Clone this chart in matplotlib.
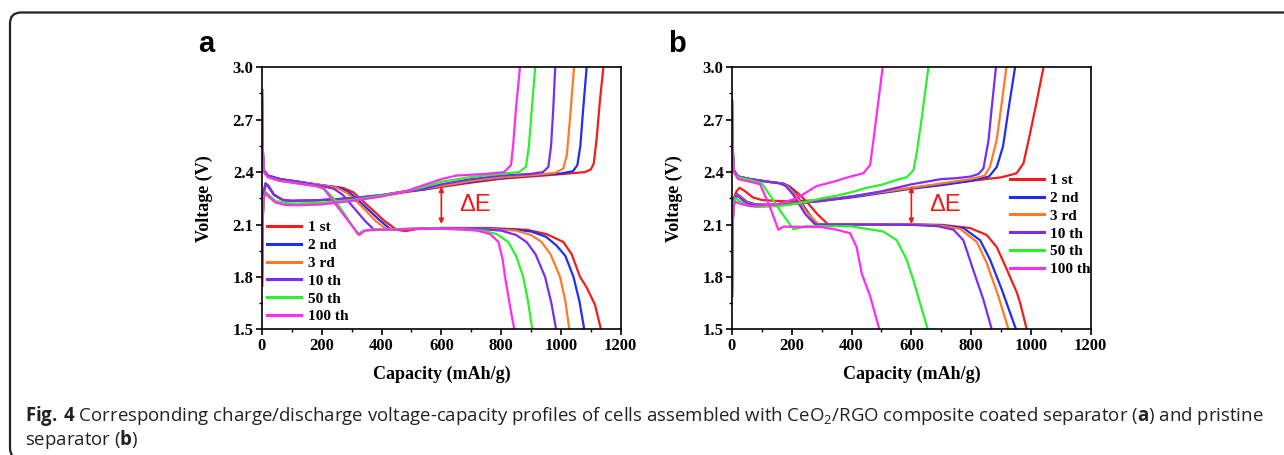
import numpy as np
import matplotlib
matplotlib.use("Agg")
import matplotlib.pyplot as plt
from matplotlib.patches import FancyBboxPatch
from matplotlib.ticker import MultipleLocator
from matplotlib.transforms import IdentityTransform

# legend labels / colours for the six cycles
cycles = ['1 st', '2 nd', '3 rd', '10 th', '50 th', '100 th']
colors = ['#f41c1c', '#1f2ef0', '#ff7a26', '#7a2cf2', '#2cf02c', '#ff2cf2']

# ---- panel a: CeO2/RGO coated separator (capacity mAh/g, voltage V) ----
a_dis_1 = [(0, 2.87), (2, 2.55), (6, 2.41), (20, 2.38), (60, 2.36), (120, 2.345), (200, 2.325), (270, 2.31),
           (305, 2.285), (340, 2.23), (372, 2.18), (410, 2.12), (450, 2.07), (480, 2.062), (520, 2.075),
           (600, 2.08), (750, 2.08), (885, 2.07), (952, 2.045), (1008, 2.0), (1036, 1.93), (1064, 1.80),
           (1086, 1.74), (1114, 1.64), (1134, 1.50)]
a_dis_2 = [(0, 2.87), (2, 2.55), (6, 2.41), (20, 2.38), (60, 2.36), (120, 2.345), (200, 2.325), (260, 2.31),
           (295, 2.28), (340, 2.21), (390, 2.13), (428, 2.075), (470, 2.072), (600, 2.08), (750, 2.078),
           (850, 2.07), (900, 2.06), (950, 2.03), (985, 1.98), (1015, 1.92), (1042, 1.80), (1062, 1.66),
           (1078, 1.50)]
a_dis_3 = [(0, 2.87), (2, 2.55), (6, 2.41), (20, 2.38), (60, 2.36), (120, 2.345), (200, 2.325), (250, 2.31),
           (285, 2.28), (330, 2.21), (380, 2.12), (415, 2.075), (460, 2.072), (600, 2.08), (750, 2.075),
           (850, 2.065), (900, 2.04), (935, 2.0), (965, 1.93), (997, 1.80), (1015, 1.66), (1028, 1.50)]
a_dis_10 = [(0, 2.87), (2, 2.55), (6, 2.41), (20, 2.38), (60, 2.36), (120, 2.345), (200, 2.32), (240, 2.305),
            (270, 2.27), (310, 2.19), (345, 2.12), (375, 2.07), (420, 2.072), (600, 2.08), (720, 2.075),
            (800, 2.065), (850, 2.04), (885, 2.0), (915, 1.93), (947, 1.80), (968, 1.65), (984, 1.50)]
a_dis_50 = [(0, 2.87), (2, 2.55), (6, 2.40), (20, 2.37), (60, 2.35), (120, 2.335), (180, 2.32), (210, 2.30),
            (240, 2.25), (280, 2.15), (320, 2.045), (340, 2.065), (380, 2.072), (600, 2.078), (700, 2.07),
            (740, 2.065), (785, 2.045), (824, 2.0), (850, 1.92), (874, 1.80), (890, 1.66), (904, 1.50)]
a_dis_100 = [(0, 2.87), (2, 2.55), (6, 2.40), (20, 2.37), (60, 2.35), (120, 2.335), (180, 2.32), (205, 2.31),
             (235, 2.24), (280, 2.14), (325, 2.04), (345, 2.065), (390, 2.07), (600, 2.076), (680, 2.07),
             (720, 2.065), (763, 2.045), (791, 2.0), (805, 1.90), (813, 1.80), (825, 1.68), (835, 1.58),
             (844, 1.50)]

a_chg_1 = [(0, 1.75), (2, 2.10), (5, 2.28), (12, 2.335), (22, 2.32), (40, 2.27), (70, 2.24), (100, 2.235),
           (200, 2.24), (300, 2.25), (400, 2.265), (480, 2.285), (540, 2.30), (600, 2.315), (700, 2.34),
           (800, 2.362), (900, 2.375), (1000, 2.388), (1080, 2.40), (1100, 2.415), (1110, 2.45), (1120, 2.60),
           (1130, 2.80), (1142, 3.0)]
a_chg_2 = [(0, 1.75), (2, 2.10), (5, 2.28), (12, 2.335), (22, 2.32), (40, 2.27), (70, 2.24), (100, 2.235),
           (200, 2.24), (300, 2.25), (400, 2.268), (480, 2.29), (540, 2.30), (600, 2.318), (700, 2.345),
           (800, 2.365), (900, 2.38), (1000, 2.392), (1040, 2.405), (1055, 2.44), (1065, 2.55), (1074, 2.75),
           (1086, 3.0)]
a_chg_3 = [(0, 1.75), (2, 2.10), (5, 2.28), (12, 2.33), (22, 2.315), (40, 2.27), (70, 2.24), (100, 2.235),
           (200, 2.24), (300, 2.25), (400, 2.268), (480, 2.29), (540, 2.305), (600, 2.32), (700, 2.35),
           (800, 2.37), (900, 2.382), (980, 2.395), (1008, 2.42), (1020, 2.50), (1030, 2.70), (1044, 3.0)]
a_chg_10 = [(0, 1.75), (2, 2.10), (5, 2.28), (12, 2.33), (22, 2.315), (40, 2.27), (70, 2.24), (100, 2.235),
            (200, 2.24), (300, 2.25), (400, 2.268), (480, 2.29), (540, 2.305), (600, 2.33), (700, 2.36),
            (800, 2.38), (900, 2.39), (940, 2.40), (958, 2.43), (967, 2.55), (974, 2.75), (981, 3.0)]
a_chg_50 = [(0, 1.75), (2, 2.10), (5, 2.25), (12, 2.285), (22, 2.27), (45, 2.235), (80, 2.222), (120, 2.22),
            (200, 2.225), (300, 2.24), (400, 2.265), (480, 2.29), (540, 2.315), (600, 2.345), (700, 2.372),
            (800, 2.39), (860, 2.40), (883, 2.43), (893, 2.55), (902, 2.75), (914, 3.0)]
a_chg_100 = [(0, 1.75), (2, 2.10), (5, 2.25), (12, 2.28), (22, 2.26), (45, 2.225), (80, 2.212), (120, 2.21),
             (200, 2.215), (300, 2.235), (400, 2.26), (480, 2.29), (540, 2.325), (600, 2.36), (650, 2.38),
             (750, 2.39), (810, 2.40), (833, 2.44), (840, 2.55), (849, 2.75), (863, 3.0)]

# ---- panel b: pristine separator ----
b_dis_1 = [(0, 2.81), (2, 2.55), (6, 2.41), (20, 2.375), (60, 2.36), (120, 2.345), (170, 2.335), (195, 2.315),
           (220, 2.28), (250, 2.23), (285, 2.16), (322, 2.10), (400, 2.10), (600, 2.10), (700, 2.098),
           (796, 2.08), (852, 2.04), (886, 1.97), (920, 1.84), (953, 1.71), (964, 1.65), (986, 1.50)]
b_dis_2 = [(0, 2.81), (2, 2.55), (6, 2.41), (20, 2.375), (60, 2.36), (120, 2.345), (170, 2.335), (190, 2.32),
           (215, 2.27), (250, 2.18), (283, 2.10), (400, 2.10), (600, 2.10), (700, 2.095), (774, 2.08),
           (830, 2.01), (863, 1.90), (902, 1.73), (950, 1.50)]
b_dis_3 = [(0, 2.81), (2, 2.55), (6, 2.41), (20, 2.375), (60, 2.36), (120, 2.345), (165, 2.335), (185, 2.32),
           (212, 2.27), (250, 2.17), (290, 2.10), (400, 2.10), (600, 2.10), (700, 2.093), (763, 2.075),
           (819, 2.0), (852, 1.88), (891, 1.69), (925, 1.50)]
b_dis_10 = [(0, 2.81), (2, 2.55), (6, 2.41), (20, 2.375), (60, 2.36), (120, 2.345), (160, 2.335), (180, 2.32),
            (205, 2.27), (245, 2.16), (278, 2.10), (400, 2.10), (600, 2.098), (690, 2.09), (741, 2.07),
            (774, 2.01), (807, 1.84), (841, 1.67), (869, 1.50)]
b_dis_50 = [(0, 2.81), (2, 2.55), (6, 2.40), (20, 2.37), (60, 2.355), (100, 2.335), (122, 2.28), (165, 2.17),
            (205, 2.073), (250, 2.09), (395, 2.09), (506, 2.06), (551, 2.01), (584, 1.90), (607, 1.78),
            (629, 1.65), (655, 1.50)]
b_dis_100 = [(0, 2.81), (2, 2.55), (6, 2.40), (20, 2.36), (60, 2.345), (94, 2.33), (127, 2.20), (155, 2.07),
             (172, 2.088), (300, 2.085), (350, 2.07), (395, 2.05), (417, 1.97), (434, 1.82), (462, 1.69),
             (493, 1.50)]

b_chg_1 = [(0, 1.69), (2, 2.10), (6, 2.25), (15, 2.29), (25, 2.31), (40, 2.295), (70, 2.255), (100, 2.24),
           (150, 2.235), (200, 2.232), (300, 2.24), (400, 2.26), (500, 2.285), (600, 2.31), (700, 2.33),
           (800, 2.35), (900, 2.37), (952, 2.393), (975, 2.45), (997, 2.62), (1020, 2.81), (1042, 3.0)]
b_chg_2 = [(0, 1.69), (2, 2.10), (6, 2.24), (15, 2.275), (25, 2.265), (50, 2.23), (80, 2.215), (150, 2.215),
           (200, 2.22), (300, 2.235), (400, 2.255), (500, 2.28), (600, 2.305), (700, 2.325), (800, 2.35),
           (860, 2.375), (886, 2.43), (907, 2.55), (925, 2.76), (947, 3.0)]
b_chg_3 = [(0, 1.69), (2, 2.10), (6, 2.24), (15, 2.27), (25, 2.26), (50, 2.225), (80, 2.212), (150, 2.215),
           (200, 2.22), (300, 2.238), (400, 2.26), (500, 2.285), (600, 2.31), (700, 2.335), (800, 2.36),
           (845, 2.38), (863, 2.43), (885, 2.58), (902, 2.79), (918, 3.0)]
b_chg_10 = [(0, 1.69), (2, 2.10), (6, 2.24), (15, 2.265), (25, 2.255), (50, 2.22), (80, 2.21), (150, 2.212),
            (200, 2.218), (300, 2.235), (400, 2.26), (500, 2.29), (600, 2.33), (650, 2.345), (700, 2.36),
            (750, 2.365), (800, 2.375), (825, 2.39), (841, 2.42), (858, 2.58), (869, 2.77), (883, 3.0)]
b_chg_50 = [(0, 1.69), (2, 2.10), (6, 2.22), (12, 2.25), (25, 2.235), (50, 2.21), (80, 2.20), (150, 2.205),
            (200, 2.215), (250, 2.23), (300, 2.25), (350, 2.265), (400, 2.285), (450, 2.31), (506, 2.33),
            (550, 2.355), (584, 2.37), (607, 2.41), (618, 2.51), (634, 2.70), (657, 3.0)]
b_chg_100 = [(0, 1.69), (2, 2.10), (6, 2.21), (12, 2.23), (25, 2.22), (60, 2.205), (150, 2.215), (216, 2.25),
             (283, 2.32), (339, 2.345), (395, 2.374), (439, 2.393), (462, 2.44), (473, 2.58), (490, 2.81),
             (504, 3.0)]

# delta E arrow (capacity, low V, high V)
dE_a = (600, 2.103, 2.317)
dE_b = (600, 2.103, 2.317)

serif = 'Liberation Serif'
W, H = 1284, 455
fig = plt.figure(figsize=(W / 100, H / 100), dpi=100)
fig.patch.set_facecolor('white')


def panel(left_px, dis, chg, dE, letter, leg_anchor):
    ax = fig.add_axes([left_px / W, 1 - 329.3 / H, 358.7 / W, 262 / H])
    for i in range(len(cycles)):
        d = np.array(dis[i])
        c = np.array(chg[i])
        ax.plot(d[:, 0], d[:, 1], color=colors[i], lw=1.6, label=cycles[i])
        ax.plot(c[:, 0], c[:, 1], color=colors[i], lw=1.6)
    ax.set_xlim(0, 1200)
    ax.set_ylim(1.5, 3.0)
    ax.xaxis.set_major_locator(MultipleLocator(200))
    ax.xaxis.set_minor_locator(MultipleLocator(100))
    ax.yaxis.set_major_locator(MultipleLocator(0.3))
    ax.yaxis.set_minor_locator(MultipleLocator(0.15))
    ax.yaxis.set_major_formatter(plt.FormatStrFormatter('%.1f'))
    ax.tick_params(which='major', direction='out', length=4, width=1.2, pad=2)
    ax.tick_params(which='minor', direction='out', length=2.5, width=1.0)
    for lab in ax.get_xticklabels() + ax.get_yticklabels():
        lab.set_fontfamily(serif)
        lab.set_fontweight('bold')
        lab.set_fontsize(12)
    for sp in ax.spines.values():
        sp.set_linewidth(1.2)
    ax.set_xlabel('Capacity (mAh/g)', fontfamily=serif, fontweight='bold', fontsize=13)
    ax.set_ylabel('Voltage (V)', fontfamily=serif, fontweight='bold', fontsize=13)
    ax.xaxis.set_label_coords(0.5, -0.14)
    ax.yaxis.set_label_coords(-0.137, 0.5)

    x, lo, hi = dE
    ax.annotate('', xy=(x, lo), xytext=(x, hi),
                arrowprops=dict(arrowstyle='<|-|>', color='#f01818', lw=1.2,
                                mutation_scale=7, shrinkA=0, shrinkB=0))
    ax.text(x + 60, (lo + hi) / 2, 'ΔE', color='#f01818', fontsize=17,
            fontfamily='Liberation Sans', ha='left', va='center')

    leg = ax.legend(loc='upper left', bbox_to_anchor=leg_anchor, frameon=False,
                    prop={'family': serif, 'weight': 'bold', 'size': 11},
                    handlelength=2.2, handletextpad=0.45, labelspacing=0.27,
                    borderaxespad=0, borderpad=0)
    for ln in leg.get_lines():
        ln.set_linewidth(2.2)

    fig.text((left_px - 64) / W, 1 - 52 / H, letter, fontsize=21, fontweight='bold',
             fontfamily='Liberation Sans', ha='left', va='baseline')
    return ax


panel(262, [a_dis_1, a_dis_2, a_dis_3, a_dis_10, a_dis_50, a_dis_100],
      [a_chg_1, a_chg_2, a_chg_3, a_chg_10, a_chg_50, a_chg_100], dE_a, 'a', (0.014, 0.415))
panel(732, [b_dis_1, b_dis_2, b_dis_3, b_dis_10, b_dis_50, b_dis_100],
      [b_chg_1, b_chg_2, b_chg_3, b_chg_10, b_chg_50, b_chg_100], dE_b, 'b', (0.775, 0.595))

# rounded frame round the figure (open to the right and bottom)
frame = FancyBboxPatch((10, -4), 1400, H - 12.5 + 4, boxstyle='round,pad=0,rounding_size=11',
                       transform=IdentityTransform(), fill=False, ec='#222222', lw=1.6)
fig.patches.append(frame)

# caption, bold parts through mathtext so spacing stays natural
cap_font = 'Open Sans'
plt.rcParams['mathtext.fontset'] = 'custom'
plt.rcParams['mathtext.rm'] = cap_font
plt.rcParams['mathtext.bf'] = cap_font + ':bold'

line1 = (r'$\mathbf{Fig.\,4}$ Corresponding charge/discharge voltage-capacity profiles of cells assembled with '
         r'CeO$_2$/RGO composite coated separator ($\mathbf{a}$) and pristine')
line2 = r'separator ($\mathbf{b}$)'

renderer = fig.canvas.get_renderer()
t = fig.text(0, 0, line1, fontfamily=cap_font, fontsize=12, transform=IdentityTransform())
w0 = t.get_window_extent(renderer).width
t.remove()
cap_size = 12 * (1262 - 25) / w0

fig.text(25, H - 421, line1, fontfamily=cap_font, fontsize=cap_size, color='#222222',
         ha='left', va='baseline', transform=IdentityTransform())
fig.text(25, H - 445, line2, fontfamily=cap_font, fontsize=cap_size, color='#222222',
         ha='left', va='baseline', transform=IdentityTransform())

fig.savefig('out.png', dpi=100, facecolor='white')
